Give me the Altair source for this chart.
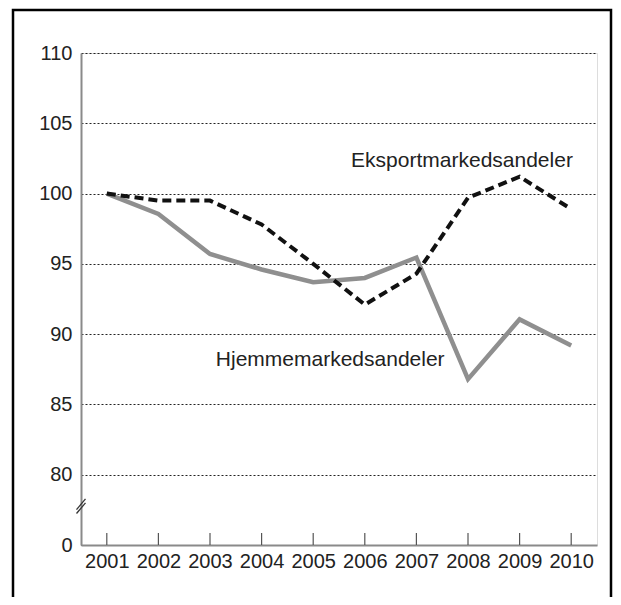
import altair as alt
import pandas as pd

# ---- data ----
years = ["2001", "2002", "2003", "2004", "2005", "2006", "2007", "2008", "2009", "2010"]
eksport = [100.0, 99.5, 99.5, 97.8, 95.0, 92.1, 94.3, 99.7, 101.2, 98.9]
hjemme = [100.0, 98.55, 95.7, 94.6, 93.7, 94.0, 95.45, 86.8, 91.05, 89.2]

# y axis: broken scale, the "0" is drawn one step below 80
y_tick_values = [75, 80, 85, 90, 95, 100, 105, 110]
y_tick_labels = ["0", "80", "85", "90", "95", "100", "105", "110"]

label_texts = ["Eksportmarkedsandeler", "Hjemmemarkedsandeler"]
label_years = ["2008", "2005"]
label_values = [101.9, 87.7]
label_dx = [-6, 17]

break_values = [77.62, 77.9]

W, H = 516, 492
FONT = "Liberation Sans"
TXT = "#222222"

df_e = pd.DataFrame({"year": years, "value": eksport})
df_h = pd.DataFrame({"year": years, "value": hjemme})
df_lab = pd.DataFrame({"text": label_texts, "year": label_years,
                       "value": label_values, "dx": label_dx})
df_years = pd.DataFrame({"year": years})
df_break = pd.DataFrame({"y1": [v - 0.38 for v in break_values],
                         "y2": [v + 0.38 for v in break_values]})

label_map = "{" + ",".join(f"'{v}':'{l}'" for v, l in zip(y_tick_values, y_tick_labels)) + "}"

xscale = alt.Scale(type="point", padding=0.5, domain=years)
yscale = alt.Scale(domain=[75, 110], nice=False, zero=False)

x_axis = alt.Axis(title=None, ticks=False, labelFontSize=20, labelFont=FONT,
                  labelColor=TXT, labelPadding=6, domainColor="#8a8a8a",
                  domainWidth=2, grid=False, labelAngle=0)
y_axis = alt.Axis(title=None, values=y_tick_values, ticks=False,
                  labelExpr=f"{label_map}[datum.value + '']",
                  labelFontSize=20, labelFont=FONT, labelColor=TXT,
                  labelPadding=9, domainColor="#8a8a8a", domainWidth=2,
                  grid=True, gridDash=[2, 2], gridColor="#222222", gridWidth=1)

base_x = alt.X("year:O", scale=xscale, axis=x_axis)

frame = alt.Chart(pd.DataFrame({"a": [0]})).mark_rect(
    fill=None, stroke="black", strokeWidth=2.5
).encode(x=alt.value(-68), x2=alt.value(530), y=alt.value(-43), y2=alt.value(570))

axes = alt.Chart(df_h).mark_line(opacity=0).encode(
    x=base_x,
    y=alt.Y("value:Q", scale=yscale, axis=y_axis),
)

ticks = alt.Chart(df_years).mark_rule(color="#555555", strokeWidth=1.2).encode(
    x=alt.X("year:O", scale=xscale),
    y=alt.value(H), y2=alt.value(H - 12),
)

breaks = alt.Chart(df_break).mark_rule(color="#333333", strokeWidth=1.3).encode(
    x=alt.value(-4.5), x2=alt.value(4.5),
    y=alt.Y("y1:Q", scale=yscale), y2="y2:Q",
)

line_h = alt.Chart(df_h).mark_line(color="#8f8f8f", strokeWidth=4.5).encode(
    x=alt.X("year:O", scale=xscale),
    y=alt.Y("value:Q", scale=yscale),
)

line_e = alt.Chart(df_e).mark_line(color="#111111", strokeWidth=4,
                                   strokeDash=[9, 5]).encode(
    x=alt.X("year:O", scale=xscale),
    y=alt.Y("value:Q", scale=yscale),
)

labels = alt.Chart(df_lab).mark_text(fontSize=21, font=FONT, color=TXT,
                                     align="center", baseline="alphabetic").encode(
    x=alt.X("year:O", scale=xscale),
    y=alt.Y("value:Q", scale=yscale),
    xOffset=alt.XOffset("dx:Q", scale=None),
    text="text:N",
)

chart = alt.layer(frame, axes, ticks, breaks, line_h, line_e, labels).properties(
    width=W, height=H,
    autosize=alt.AutoSizeParams(type="none"),
    padding={"left": 73, "top": 45, "right": 16, "bottom": 52},
).configure_view(stroke=None).configure(background="white")

chart.save("out.html", embed_options={"renderer": "svg", "actions": False})
